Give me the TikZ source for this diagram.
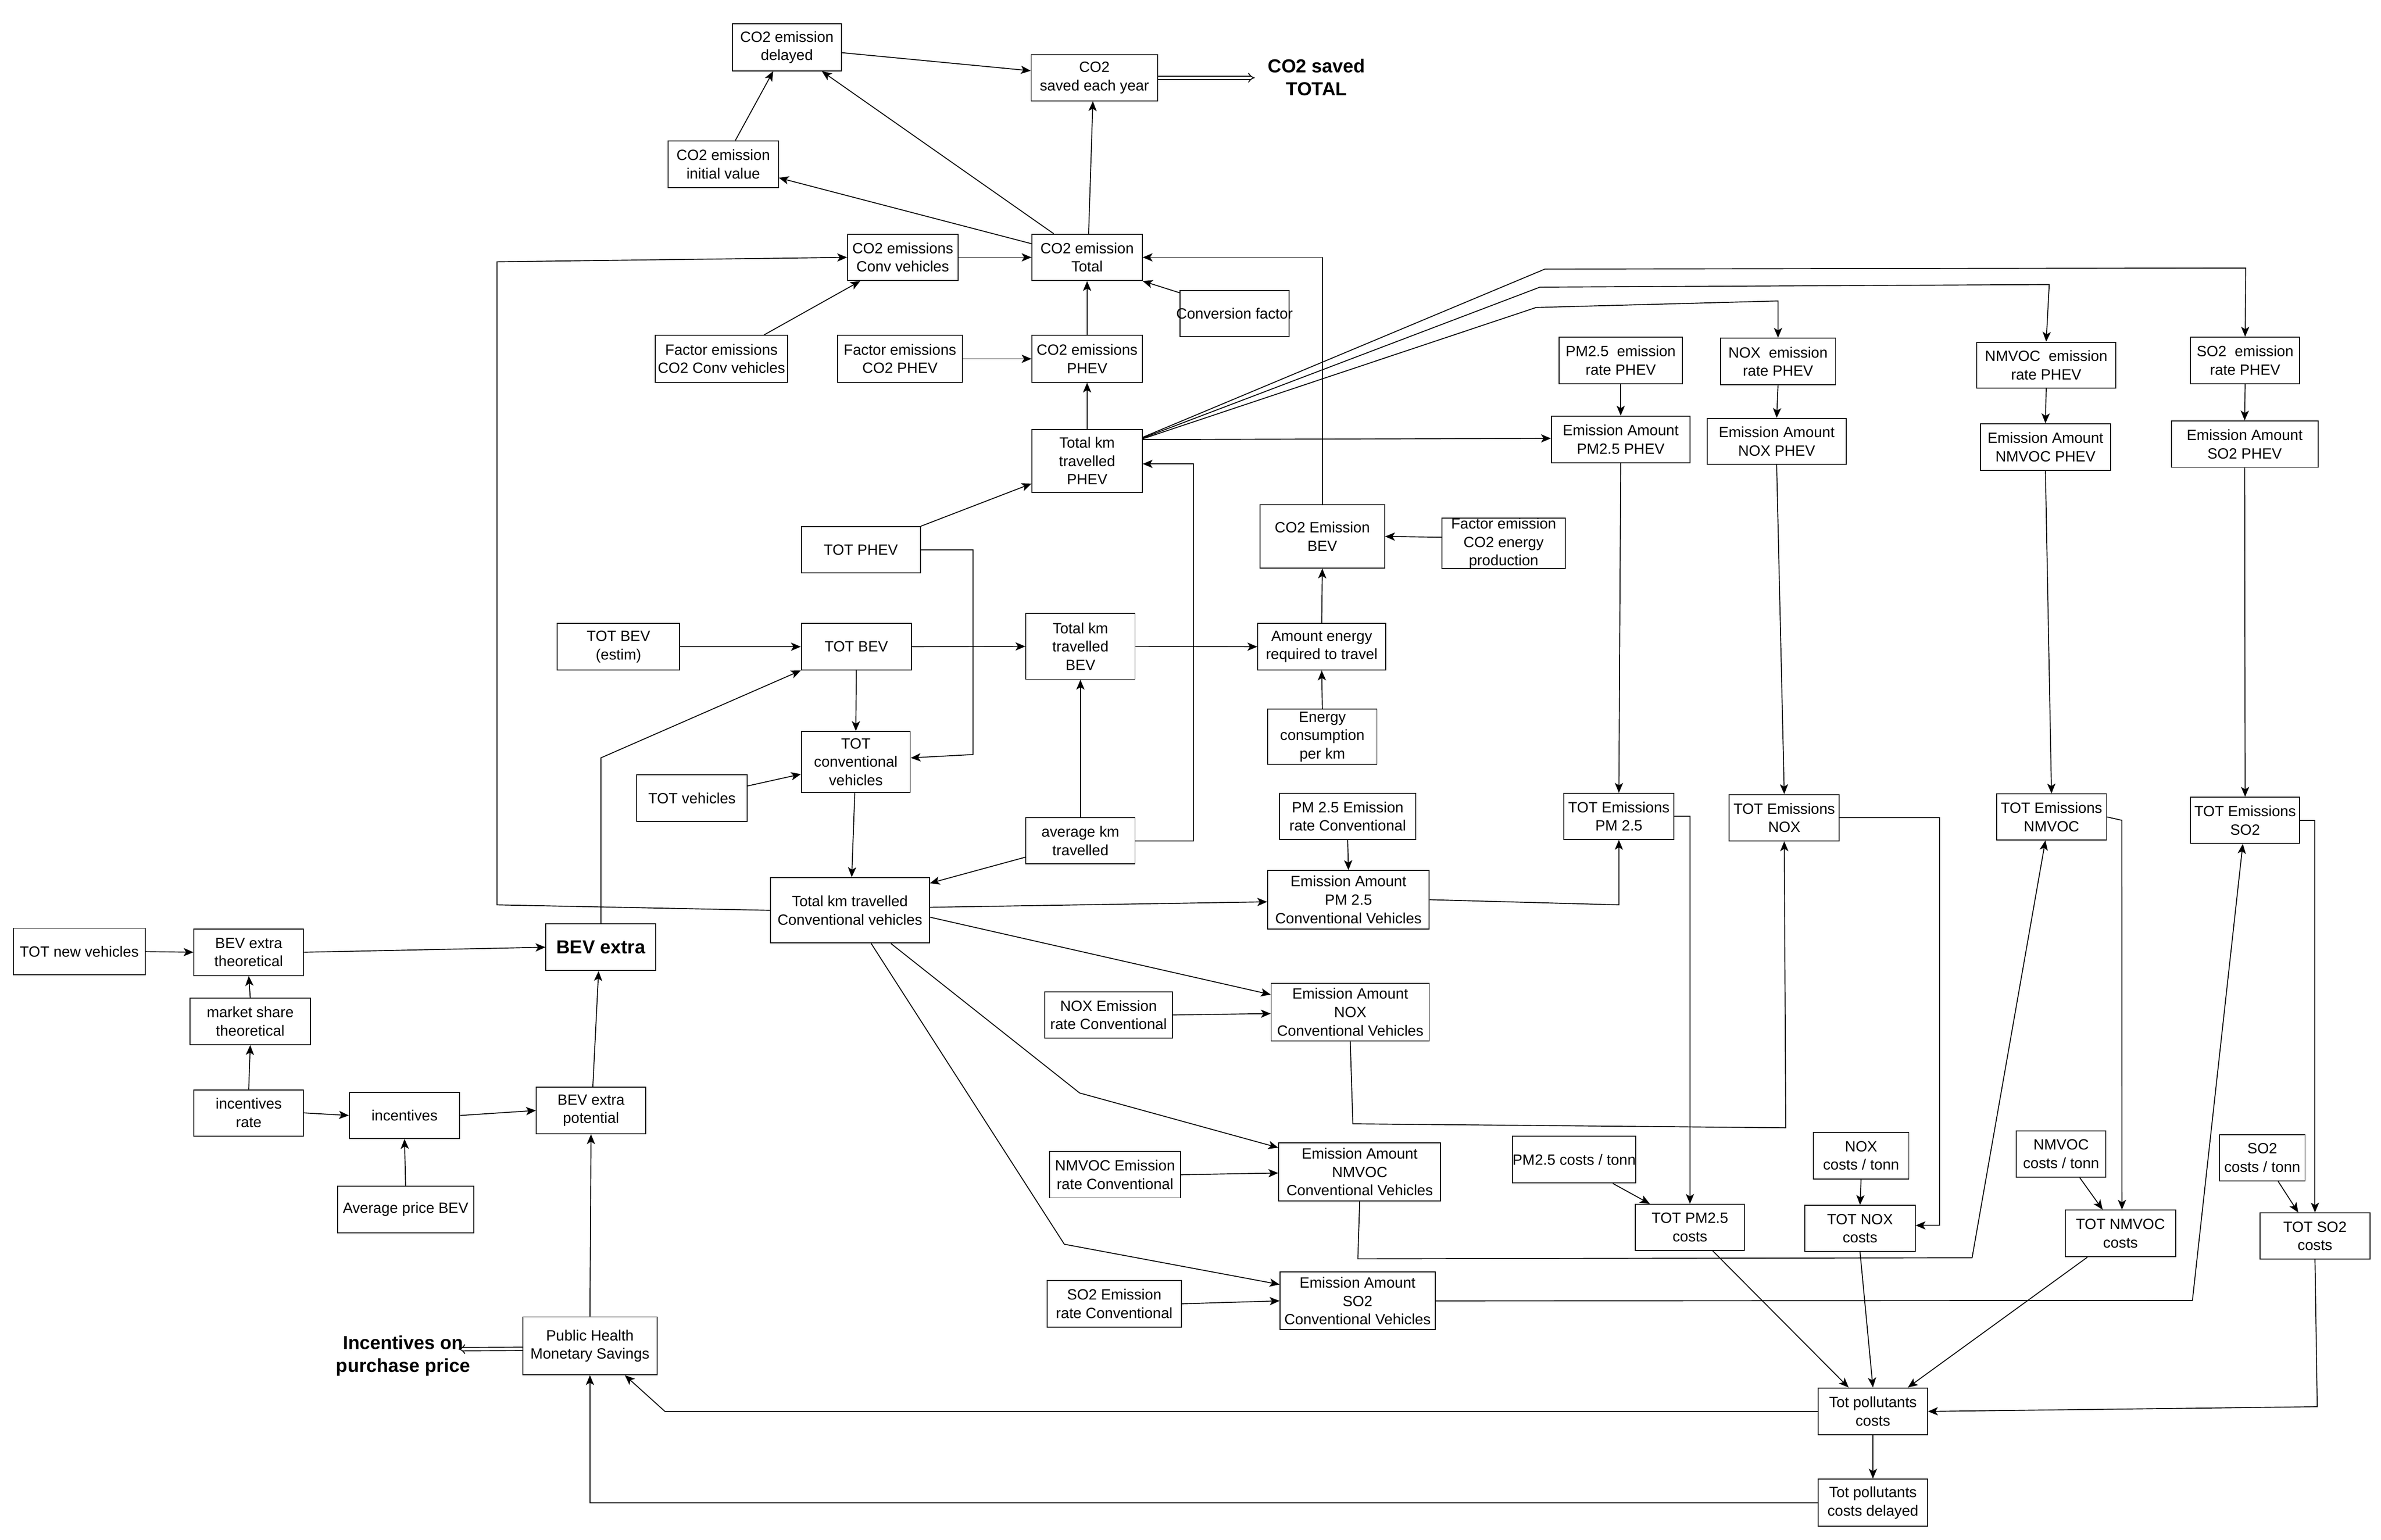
\documentclass[tikz,border=0pt]{standalone}
\usepackage{fontspec}
\setmainfont{Liberation Sans}
\usetikzlibrary{arrows.meta,calc}
\newcommand\nfs{\fontsize{9.8}{12.1}\selectfont}
\newcommand\bfs{\fontsize{12.4}{15}\selectfont\bfseries}
\tikzset{
  bx/.style={draw, inner sep=0pt, align=center, font=\nfs},
  sz/.style 2 args={minimum width=#1pt, minimum height=#2pt},
  ar/.style={-{Stealth[length=6.5pt,width=5.4pt,inset=1.6pt]}},
  dbl/.style={double, double distance=1.6pt, -{Implies[scale=1.5]}},
  every path/.style={line width=0.6pt}
}
\begin{document}
\begin{tikzpicture}[x=1pt,y=-1pt]
\useasboundingbox (0,0) rectangle (1568,1014);
% ---------- top CO2 block ----------
\node[bx,sz={71.9}{30.8}] (delay) at (518.2,31.2) {CO2 emission\\delayed};
\node[bx,sz={83.2}{30.3}] (saved) at (720.7,51.2) {CO2\\saved each year};
\node[bx,sz={72.6}{30.8}] (init) at (476.3,108.1) {CO2 emission\\initial value};
\node[bx,sz={72.7}{30.6}] (convco2) at (594.5,169.5) {CO2 emissions\\Conv vehicles};
\node[bx,sz={72.6}{30.6}] (total) at (715.9,169.5) {CO2 emission\\Total};
\node[bx,sz={87.3}{30.8}] (fconv) at (475.1,236.3) {Factor emissions\\CO2 Conv vehicles};
\node[bx,sz={82.2}{30.8}] (fphev) at (592.7,236.3) {Factor emissions\\CO2 PHEV};
\node[bx,sz={72.6}{30.8}] (phevco2) at (715.9,236.3) {CO2 emissions\\PHEV};
\node[bx,sz={72.6}{41.5}] (kmphev) at (715.9,303.5) {Total km\\travelled\\PHEV};
\node[bx,sz={71.8}{30.5}] (convf) at (813,206.6) {\makebox[0pt]{Conversion factor}};
\node[font=\bfs, align=center, inner sep=0pt] (co2text) at (867,51) {CO2 saved\\TOTAL};
% ---------- PHEV pollutants ----------
\node[bx,sz={81.2}{30.8}] (pmrate) at (1067.3,237.4) {PM2.5~ emission\\rate PHEV};
\node[bx,sz={75.7}{30.7}] (noxrate) at (1170.9,238.1) {NOX~ emission\\rate PHEV};
\node[bx,sz={91.5}{30.3}] (nmvocrate) at (1347.5,240.5) {NMVOC~ emission\\rate PHEV};
\node[bx,sz={71.9}{30.8}] (so2rate) at (1478.5,237.4) {SO2~ emission\\rate PHEV};
\node[bx,sz={91.3}{30.8}] (pmam) at (1067.3,289.4) {Emission Amount\\PM2.5 PHEV};
\node[bx,sz={91.5}{30.3}] (noxam) at (1170.0,290.7) {Emission Amount\\NOX PHEV};
\node[bx,sz={85.5}{30.7}] (nmvocam) at (1347.0,294.4) {Emission Amount\\NMVOC PHEV};
\node[bx,sz={96.6}{30.6}] (so2am) at (1478.2,292.5) {Emission Amount\\SO2 PHEV};
% ---------- BEV energy ----------
\node[bx,sz={82}{41.6}] (co2bev) at (870.8,353.3) {CO2 Emission\\BEV};
\node[bx,sz={81}{31.2}] (fenergy) at (990.2,357.8) {Factor emission\\CO2 energy\\production};
\node[bx,sz={84.2}{30.7}] (amount) at (870.4,425.9) {Amount energy\\required to travel};
\node[bx,sz={71.9}{36.4}] (energy) at (870.8,485.2) {Energy\\consumption\\per km};
% ---------- vehicles ----------
\node[bx,sz={78.4}{30.5}] (totphev) at (566.9,362.1) {TOT PHEV};
\node[bx,sz={80.5}{30.7}] (totbevest) at (407.3,425.9) {TOT BEV\\(estim)};
\node[bx,sz={72.4}{30.7}] (totbev) at (563.9,425.9) {TOT BEV};
\node[bx,sz={71.9}{43.3}] (kmbev) at (711.5,425.7) {Total km\\travelled\\BEV};
\node[bx,sz={71.7}{40.1}] (totconv) at (563.6,501.8) {TOT\\conventional\\vehicles};
\node[bx,sz={72.6}{30.6}] (totveh) at (455.7,525.6) {TOT vehicles};
\node[bx,sz={71.9}{30.3}] (avgkm) at (711.5,553.7) {average km\\travelled};
\node[bx,sz={104.7}{43.1}] (kmconv) at (559.7,599.5) {Total km travelled\\Conventional vehicles};
% ---------- conventional pollutants ----------
\node[bx,sz={89.8}{30.4}] (pmconvrate) at (887.5,537.6) {PM 2.5 Emission\\rate Conventional};
\node[bx,sz={106.4}{38.4}] (pmconvam) at (888,592.5) {Emission Amount\\PM 2.5\\Conventional Vehicles};
\node[bx,sz={72.4}{30.4}] (totpm) at (1066.1,537.6) {TOT Emissions\\PM 2.5};
\node[bx,sz={72.4}{30.5}] (totnox) at (1175,538.5) {TOT Emissions\\NOX};
\node[bx,sz={72.4}{30.3}] (totnmvoc) at (1351,538) {TOT Emissions\\NMVOC};
\node[bx,sz={71.9}{30.4}] (totso2) at (1478.5,540.2) {TOT Emissions\\SO2};
\node[bx,sz={84.2}{30.2}] (noxconvrate) at (730,668.4) {NOX Emission\\rate Conventional};
\node[bx,sz={104.1}{38.1}] (noxconvam) at (889.2,666.5) {Emission Amount\\NOX\\Conventional Vehicles};
\node[bx,sz={86.3}{30.5}] (nmvocconvrate) at (734.3,773.6) {NMVOC Emission\\rate Conventional};
\node[bx,sz={106.6}{38.2}] (nmvocconvam) at (895.4,771.8) {Emission Amount\\NMVOC\\Conventional Vehicles};
\node[bx,sz={88.3}{30.5}] (so2convrate) at (733.8,858.6) {SO2 Emission\\rate Conventional};
\node[bx,sz={102.1}{38}] (so2convam) at (894,856.7) {Emission Amount\\SO2\\Conventional Vehicles};
% ---------- costs ----------
\node[bx,sz={81.2}{30.7}] (pmcost) at (1036.6,763.7) {\makebox[0pt]{PM2.5 costs / tonn}};
\node[bx,sz={71.8}{30.4}] (totpmcost) at (1112.9,808.3) {TOT PM2.5\\costs};
\node[bx,sz={62.9}{30.7}] (noxcost) at (1225.6,761) {NOX\\costs / tonn};
\node[bx,sz={72.6}{30.4}] (totnoxcost) at (1224.9,809) {TOT NOX\\costs};
\node[bx,sz={58.8}{30.5}] (nmvoccost) at (1357.3,760) {NMVOC\\costs / tonn};
\node[bx,sz={72.7}{30.7}] (totnmvoccost) at (1396.4,812.3) {TOT NMVOC\\costs};
\node[bx,sz={56.3}{30.5}] (so2cost) at (1489.8,762.5) {SO2\\costs / tonn};
\node[bx,sz={72.4}{30.4}] (totso2cost) at (1524.5,814) {TOT SO2\\costs};
\node[bx,sz={71.9}{30.9}] (totpoll) at (1233.4,929.5) {Tot pollutants\\costs};
\node[bx,sz={71.9}{31.1}] (totpolldel) at (1233.4,989.6) {Tot pollutants\\costs delayed};
% ---------- left: incentives ----------
\node[bx,sz={86.7}{30.7}] (totnew) at (52.2,626.7) {TOT new vehicles};
\node[bx,sz={72.2}{30.7}] (bevtheo) at (163.8,627.1) {BEV extra\\theoretical};
\node[bx,sz={72.4}{30.8},font=\bfs] (bevextra) at (395.7,623.8) {BEV extra};
\node[bx,sz={79.2}{30.7}] (market) at (164.8,672.6) {market share\\theoretical};
\node[bx,sz={72.2}{30.4}] (incrate) at (163.8,732.9) {incentives\\rate};
\node[bx,sz={72.7}{30.4}] (inc) at (266.4,734.6) {incentives};
\node[bx,sz={89.8}{30.6}] (avgprice) at (267.1,796.5) {Average price BEV};
\node[bx,sz={71.9}{30.7}] (bevpot) at (389.2,731.3) {BEV extra\\potential};
\node[bx,sz={88.5}{38.1}] (public) at (388.5,886.3) {Public Health\\Monetary Savings};
\node[font=\bfs, align=center, inner sep=0pt] (inctext) at (265.5,893) {Incentives on\\purchase price};
% ---------- bend coordinates ----------
\coordinate (cL1) at (327.3,595.9);
\coordinate (cL2) at (327.3,172.4);
\coordinate (fa1) at (1017.4,177.2);
\coordinate (fa2) at (1478.9,176.5);
\coordinate (fb1) at (1014.1,189.1);
\coordinate (fb2) at (1349.5,187.4);
\coordinate (fc1) at (1011.6,202.5);
\coordinate (fc2) at (1170.9,198.2);
\coordinate (cavg1) at (786,553.7);
\coordinate (cavg2) at (786,305.5);
\coordinate (cph1) at (640.8,362.1);
\coordinate (cph2) at (640.8,496.9);
\coordinate (cbev) at (395.7,499.1);
\coordinate (cnmv) at (711.0,719.8);
\coordinate (cso2) at (700.9,819.4);
\coordinate (cpm) at (1066.1,595.9);
\coordinate (cnox1) at (890.9,740.1);
\coordinate (cnox2) at (1176,742.7);
\coordinate (cnmv1) at (894.2,829.0);
\coordinate (cnmv2) at (1298.7,828.3);
\coordinate (cso21) at (1443.8,856.4);
\coordinate (cnoxc) at (1277.3,538.5);
\coordinate (cnmc) at (1397.3,540.2);
\coordinate (cso2c) at (1526,926.4);
\coordinate (cpub) at (437.9,929.5);
\coordinate (csave) at (826.3,51.2);
\coordinate (cinc) at (302,888.5);
% ---------- connectors: top ----------
\draw[ar] ([xshift=8pt]init.north) -- ([xshift=-9pt]delay.south);
\draw[ar] ([xshift=-22pt]total.north) -- ([xshift=23pt]delay.south);
\draw[ar] ([yshift=9pt]total.west) -- ([yshift=-9pt]init.east);
\draw[ar] ([yshift=-3.5pt]delay.east) -- ([yshift=4.6pt]saved.west);
\draw[ar] ([xshift=1pt]total.north) -- ([xshift=-1pt]saved.south);
\draw[dbl] (saved.east) -- (csave);
\draw[ar] (convco2.east) -- (total.west);
\draw[ar] (kmconv.west) -- (cL1) -- (cL2) -- (convco2.west);
\draw[ar] ([xshift=28pt]fconv.north) -- ([xshift=-28pt]convco2.south);
\draw[ar] (fphev.east) -- (phevco2.west);
\draw[ar] (phevco2.north) -- (total.south);
\draw[ar] (kmphev.north) -- (phevco2.south);
\draw[ar] ([yshift=13.8pt]convf.west) -- (total.south east);
\draw[ar] (co2bev.north) |- (total.east);
\draw[ar] (totphev.north east) -- ([yshift=-15pt]kmphev.west);
% fan lines to PHEV rates
\draw[ar] ([yshift=15.5pt]kmphev.east) -- (fa1) -- (fa2) -- (so2rate.north);
\draw[ar] ([yshift=15pt]kmphev.east) -- (fb1) -- (fb2) -- (nmvocrate.north);
\draw[ar] ([yshift=14.5pt]kmphev.east) -- (fc1) -- (fc2) -- (noxrate.north);
\draw[ar] ([yshift=14pt]kmphev.east) -- ([yshift=0.7pt]pmam.west);
\draw[ar] (avgkm.east) -- (cavg1) -- (cavg2) -- ([yshift=-2pt]kmphev.east);
% PHEV pollutant chains
\draw[ar] (pmrate.south) -- (pmam.north);
\draw[ar] (noxrate.south) -- (noxam.north);
\draw[ar] (nmvocrate.south) -- (nmvocam.north);
\draw[ar] (so2rate.south) -- (so2am.north);
\draw[ar] (pmam.south) -- (totpm.south |- totpm.north);
\draw[ar] (noxam.south) -- (totnox.north);
\draw[ar] (nmvocam.south) -- (totnmvoc.north);
\draw[ar] (so2am.south) -- (totso2.north);
% BEV energy
\draw[ar] ([yshift=4pt]fenergy.west) -- (co2bev.east);
\draw[ar] (amount.north) -- (co2bev.south);
\draw[ar] (energy.north) -- (amount.south);
\draw[ar] (kmbev.east) -- (amount.west);
% vehicles
\draw[ar] (totbevest.east) -- (totbev.west);
\draw[ar] (totbev.east) -- (kmbev.west);
\draw[ar] (totbev.south) -- (totconv.north);
\draw[ar] (totphev.east) -- (cph1) -- (cph2) -- ([yshift=2.7pt]totconv.east);
\draw[ar] (bevextra.north) -- (cbev) -- (totbev.south west);
\draw[ar] ([yshift=8pt]totveh.east) -- ([yshift=-8pt]totconv.west);
\draw[ar] ([xshift=-0.7pt]totconv.south) -- ([xshift=1.2pt]kmconv.north);
\draw[ar] ([yshift=-10.8pt]avgkm.west) -- ([yshift=-4pt]kmconv.north east);
\draw[ar] (avgkm.north) -- (kmbev.south);
% conventional emissions
\draw[ar] ([yshift=2pt]kmconv.east) -- ([yshift=-1.4pt]pmconvam.west);
\draw[ar] ([yshift=-4.5pt]kmconv.east) -- ([yshift=11.5pt]noxconvam.west);
\draw[ar] ([xshift=27pt]kmconv.south) -- (cnmv) -- ([yshift=16pt]nmvocconvam.west);
\draw[ar] ([xshift=14pt]kmconv.south) -- (cso2) -- ([yshift=10.8pt]so2convam.west);
\draw[ar] (pmconvrate.south) -- (pmconvam.north);
\draw[ar] (noxconvrate.east) -- ([yshift=-1pt]noxconvam.west);
\draw[ar] (nmvocconvrate.east) -- ([yshift=-0.7pt]nmvocconvam.west);
\draw[ar] (so2convrate.east) -- (so2convam.west);
\draw[ar] (pmconvam.east) -- (cpm) -- (totpm.south);
\draw[ar] (noxconvam.south) -- (cnox1) -- (cnox2) -- (totnox.south);
\draw[ar] (nmvocconvam.south) -- (cnmv1) -- (cnmv2) -- ([xshift=-4pt]totnmvoc.south);
\draw[ar] (so2convam.east) -- (cso21) -- ([xshift=-1.5pt]totso2.south);
% costs
\draw[ar] (totpm.east) -| (totpmcost.north);
\draw[ar] (totnox.east) -- (cnoxc) |- ([yshift=2pt]totnoxcost.east);
\draw[ar] (totnmvoc.east) -- (cnmc) -- ([xshift=1pt]totnmvoccost.north);
\draw[ar] (totso2.east) -| (totso2cost.north);
\draw[ar] ([xshift=25.5pt]pmcost.south) -- ([xshift=-26.4pt]totpmcost.north);
\draw[ar] (noxcost.south) -- (totnoxcost.north);
\draw[ar] ([xshift=12.3pt]nmvoccost.south) -- ([xshift=-11.7pt]totnmvoccost.north);
\draw[ar] ([xshift=10.5pt]so2cost.south) -- ([xshift=-11pt]totso2cost.north);
\draw[ar] ([xshift=15pt]totpmcost.south) -- ([xshift=-16pt]totpoll.north);
\draw[ar] (totnoxcost.south) -- (totpoll.north);
\draw[ar] ([xshift=-21.8pt]totnmvoccost.south) -- ([xshift=23pt]totpoll.north);
\draw[ar] (totso2cost.south) -- (cso2c) -- (totpoll.east);
\draw[ar] (totpoll.south) -- (totpolldel.north);
\draw[ar] (totpoll.west) -- (cpub) -- ([xshift=23pt]public.south);
\draw[ar] (totpolldel.west) -| (public.south);
% left incentives
\draw[ar] (public.north) -- (bevpot.south);
\draw[dbl] ([yshift=-2pt]public.west) -- (cinc);
\draw[ar] ([xshift=1.2pt]bevpot.north) -- ([xshift=-1.5pt]bevextra.south);
\draw[ar] (inc.east) -- (bevpot.west);
\draw[ar] (incrate.east) -- (inc.west);
\draw[ar] (avgprice.north) -- (inc.south);
\draw[ar] (incrate.north) -- (market.south);
\draw[ar] (market.north) -- (bevtheo.south);
\draw[ar] (totnew.east) -- (bevtheo.west);
\draw[ar] (bevtheo.east) -- (bevextra.west);
\end{tikzpicture}
\end{document}
